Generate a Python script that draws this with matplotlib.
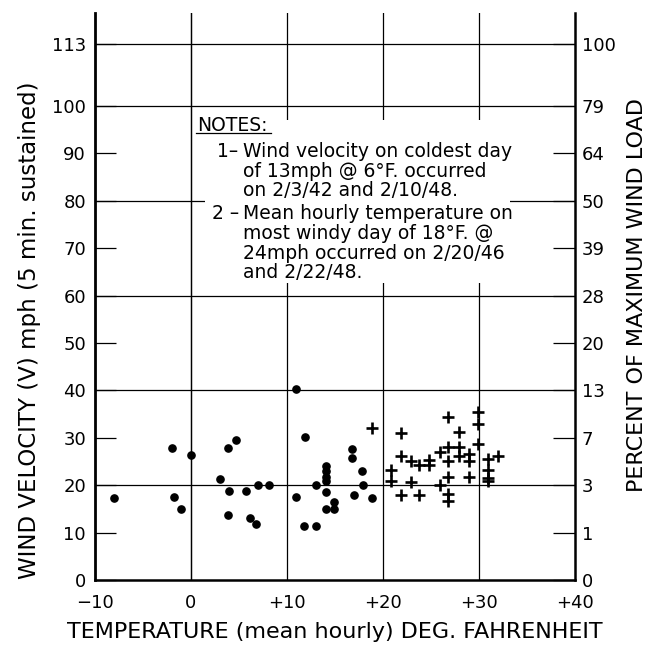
import matplotlib
matplotlib.use("Agg")
import matplotlib.pyplot as plt
from matplotlib.patches import Rectangle

plt.rcParams['font.family'] = ['DejaVu Sans']

# ---- data ----
dot_temp = [-8.0, -2.0, 0.0, -1.8, -1.0, 3.0, 3.9, 4.7, 4.0, 5.7, 7.0, 8.1, 3.9, 6.1, 6.8,
            10.9, 10.9, 11.9, 11.8, 13.05, 13.05, 14.05, 14.05, 14.05, 14.05, 14.05, 14.05,
            14.9, 14.9, 16.8, 16.8, 17.0, 17.8, 17.9, 18.9]
dot_wind = [17.2, 27.8, 26.4, 17.6, 15.0, 21.3, 27.9, 29.5, 18.8, 18.8, 20.1, 20.1, 13.8, 13.1, 11.9,
            40.2, 17.6, 30.2, 11.3, 11.3, 20.1, 24.1, 22.9, 21.8, 20.8, 18.5, 14.9,
            16.5, 14.9, 27.7, 25.7, 18.0, 22.9, 20.0, 17.3]

cross_temp = [18.9, 20.8, 20.8, 21.9, 21.9, 21.9, 22.9, 22.9, 23.8, 23.8, 24.8, 24.8,
              25.9, 25.9, 26.8, 26.8, 26.8, 26.8, 26.8, 26.8, 27.95, 27.95, 27.95,
              29.0, 29.0, 29.0, 29.85, 29.85, 29.85, 30.9, 30.9, 30.9, 30.9, 32.0]
cross_wind = [32.1, 23.3, 20.9, 31.1, 26.2, 18.0, 25.2, 20.6, 24.2, 18.0, 25.3, 24.2,
              26.9, 20.0, 34.3, 28.0, 25.1, 21.8, 18.1, 16.7, 31.2, 28.0, 26.1,
              26.5, 25.0, 21.8, 35.4, 33.0, 28.6, 25.6, 23.1, 21.6, 20.8, 26.1]

x_ticks = [-10, 0, 10, 20, 30, 40]
x_tick_labels = ['\u221210', '0', '+10', '+20', '+30', '+40']
y_ticks = [0, 10, 20, 30, 40, 50, 60, 70, 80, 90, 100, 113]
y_tick_labels = ['0', '10', '20', '30', '40', '50', '60', '70', '80', '90', '100', '113']
pct_labels = ['0', '1', '3', '7', '13', '20', '28', '39', '50', '64', '79', '100']
h_grid = [20, 40, 60, 80, 100, 113]
v_grid = [0, 10, 20, 30]

W, H = 652, 647
fig = plt.figure(figsize=(W/100, H/100), dpi=100)
ax = fig.add_axes([95/W, 1-580/H, 480/W, 567/H])
ax.set_xlim(-10, 40)
ax.set_ylim(0, 119.6)

gl = dict(color='black', lw=0.9, zorder=1)
for v in h_grid:
    ax.axhline(v, **gl)
for t in v_grid:
    ax.axvline(t, **gl)

# notes box (white-out)
ax.add_patch(Rectangle((1.45, 62.7), 33.2-1.45, 97.0-62.7, facecolor='white',
                       edgecolor='none', zorder=2))
ax.axvline(0, color='black', lw=0.9, zorder=3)

ax.plot(dot_temp, dot_wind, 'o', color='black', ms=5.2, zorder=5, clip_on=False)
ax.plot(cross_temp, cross_wind, '+', color='black', ms=8, mew=1.9, zorder=5)

ax.spines['top'].set_visible(False)
ax.spines['left'].set_linewidth(2.0)
ax.spines['right'].set_linewidth(1.8)
ax.spines['bottom'].set_linewidth(1.8)

ax.set_xticks(x_ticks)
ax.set_xticklabels(x_tick_labels)
ax.set_yticks(y_ticks)
ax.set_yticklabels(y_tick_labels)
ax.tick_params(axis='x', length=0, pad=10, labelsize=13)
ax.tick_params(axis='y', direction='in', length=15, width=0.9, pad=6.5, labelsize=13)

ax2 = ax.twinx()
ax2.set_ylim(0, 119.6)
ax2.set_yticks(y_ticks)
ax2.set_yticklabels(pct_labels)
ax2.tick_params(axis='y', direction='in', length=16, width=0.9, pad=5, labelsize=13)
for s in ['top', 'left', 'bottom', 'right']:
    ax2.spines[s].set_visible(False)

fig.text(335/W, 1-632/H, 'TEMPERATURE (mean hourly) DEG. FAHRENHEIT', fontsize=16,
         ha='center', va='center')
fig.text(30/W, 1-330/H, 'WIND VELOCITY (V) mph (5 min. sustained)', fontsize=16.5,
         ha='center', va='center', rotation=90)
fig.text(637/W, 1-295/H, 'PERCENT OF MAXIMUM WIND LOAD', fontsize=16,
         ha='center', va='center', rotation=90)

fs = 13.5
ax.text(0.63, 94.8, 'NOTES:', fontsize=fs, va='baseline', ha='left', zorder=6)
ax.plot([0.5, 8.3], [94.2, 94.2], color='black', lw=0.9, zorder=6)
ax.text(2.67, 89.3, '1\u2013', fontsize=fs, va='baseline', ha='left', zorder=6)
ax.text(5.45, 89.3, 'Wind velocity on coldest day', fontsize=fs, va='baseline', zorder=6)
ax.text(5.45, 85.0, 'of 13mph @ 6\u00b0F. occurred', fontsize=fs, va='baseline', zorder=6)
ax.text(5.45, 81.0, 'on 2/3/42 and 2/10/48.', fontsize=fs, va='baseline', zorder=6)
ax.text(2.15, 76.1, '2 \u2013', fontsize=fs, va='baseline', ha='left', zorder=6)
ax.text(5.45, 76.1, 'Mean hourly temperature on', fontsize=fs, va='baseline', zorder=6)
ax.text(5.45, 72.0, 'most windy day of 18\u00b0F. @', fontsize=fs, va='baseline', zorder=6)
ax.text(5.45, 67.7, '24mph occurred on 2/20/46', fontsize=fs, va='baseline', zorder=6)
ax.text(5.45, 63.6, 'and 2/22/48.', fontsize=fs, va='baseline', zorder=6)

fig.savefig('out.png', dpi=100)
